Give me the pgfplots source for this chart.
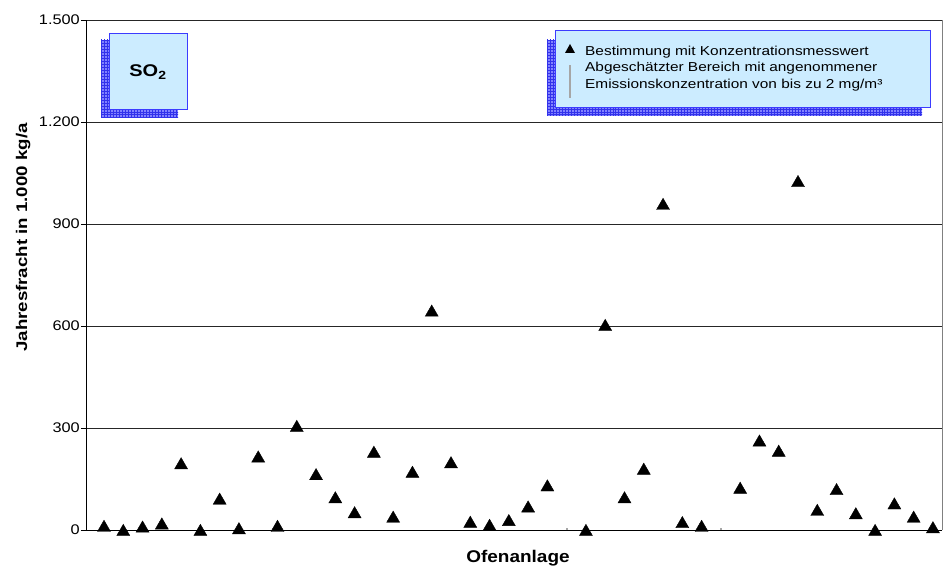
\documentclass[border=0pt]{standalone}
\usepackage{pgfplots}
\pgfplotsset{compat=1.18}
\usepackage{graphicx}
\usepackage{fontspec}
\setmainfont{Liberation Sans}
\usetikzlibrary{patterns}
\newcommand\W[2][1.18]{\scalebox{#1}[1]{#2}}
\definecolor{boxfill}{RGB}{204,236,255}
\definecolor{boxdraw}{RGB}{60,60,255}
\definecolor{shadowfill}{RGB}{130,130,255}
\definecolor{shadowgrid}{RGB}{50,50,235}
\begin{document}
\begin{tikzpicture}
\useasboundingbox (-86bp,-39bp) rectangle (862bp,530bp);
\begin{axis}[
  scale only axis, width=856bp, height=510bp,
  xmin=0.066, xmax=44.47, ymin=0, ymax=1500,
  axis x line*=bottom, axis y line*=left,
  axis line style={-, black, line width=0.8bp},
  xtick=\empty,
  ytick={0,300,600,900,1200,1500},
  yticklabels={\W[1.17]{0},\W[1.17]{300},\W[1.17]{600},\W[1.17]{900},\W[1.17]{1.200},\W[1.17]{1.500}},
  yticklabel style={font=\fontsize{14}{16}\selectfont, anchor=east, inner sep=0pt, xshift=-1bp},
  tick align=outside, major tick length=5bp,
  ytick style={black, line width=0.8bp},
  ymajorgrids, grid style={black!85, line width=0.8bp},
  ylabel={\W[1.21]{\bfseries Jahresfracht in 1.000 kg/a}},
  ylabel style={at={(axis description cs:-0.0735,0.5735)}, anchor=center, font=\fontsize{15.5}{18}\selectfont},
  xlabel={\W[1.12]{\bfseries Ofenanlage}},
  xlabel style={at={(axis description cs:0.5047,-0.0549)}, anchor=center, font=\fontsize{17}{20}\selectfont},
  clip=false,
]
\addplot[only marks, mark=triangle*, mark size=7.5bp, mark options={fill=black, draw=black, yshift=-1.8bp}] coordinates {
 (1,12) (2,0) (3,10) (4,19) (5,196) (6,0) (7,92) (8,5) (9,216) (10,12)
 (11,306) (12,164) (13,96) (14,52) (15,230) (16,39) (17,171) (18,645) (19,199) (20,24)
 (21,15) (22,29) (23,69) (24,131) (26,0) (27,603) (28,96) (29,180) (30,959)
 (31,23) (32,12) (34,124) (35,263) (36,233) (37,1026) (38,59) (39,120) (40,49)
 (41,0) (42,78) (43,39) (44,8)
};
\addplot[gray!70, line width=2bp] coordinates {(25,0) (25,6)};
\addplot[gray!70, line width=2bp] coordinates {(33,0) (33,6)};
\draw[gray, line width=0.8bp] (rel axis cs:1,0) -- (rel axis cs:1,1);
\end{axis}
% legend box
\fill[shadowfill] (461bp,414bp) rectangle (836bp,490bp);
\fill[pattern=grid, pattern color=shadowgrid] (461bp,414bp) rectangle (836bp,490bp);
\filldraw[fill=boxfill, draw=boxdraw, line width=0.8bp] (469bp,423bp) rectangle (844bp,500bp);
\fill[black] (479bp,477bp) -- (489bp,477bp) -- (484bp,486bp) -- cycle;
\draw[gray!70, line width=2bp] (484bp,432bp) -- (484bp,465bp);
\node[anchor=base west, inner sep=0pt, font=\fontsize{13}{15}\selectfont] at (499bp,474.3bp) {\W[1.19]{Bestimmung mit Konzentrationsmesswert}};
\node[anchor=base west, inner sep=0pt, font=\fontsize{13}{15}\selectfont] at (499bp,458.3bp) {\W[1.19]{Abgeschätzter Bereich mit angenommener}};
\node[anchor=base west, inner sep=0pt, font=\fontsize{13}{15}\selectfont] at (499bp,441.7bp) {\W[1.19]{Emissionskonzentration von bis zu 2 mg/m³}};
% SO2 box
\fill[shadowfill] (15bp,412bp) rectangle (92bp,490bp);
\fill[pattern=grid, pattern color=shadowgrid] (15bp,412bp) rectangle (92bp,490bp);
\filldraw[fill=boxfill, draw=boxdraw, line width=0.8bp] (23bp,421bp) rectangle (101bp,497bp);
\node[anchor=center, inner sep=0pt, font=\fontsize{17}{20}\selectfont\bfseries] at (62bp,458bp) {\W{SO\textsubscript{2}}};
\end{tikzpicture}
\end{document}
